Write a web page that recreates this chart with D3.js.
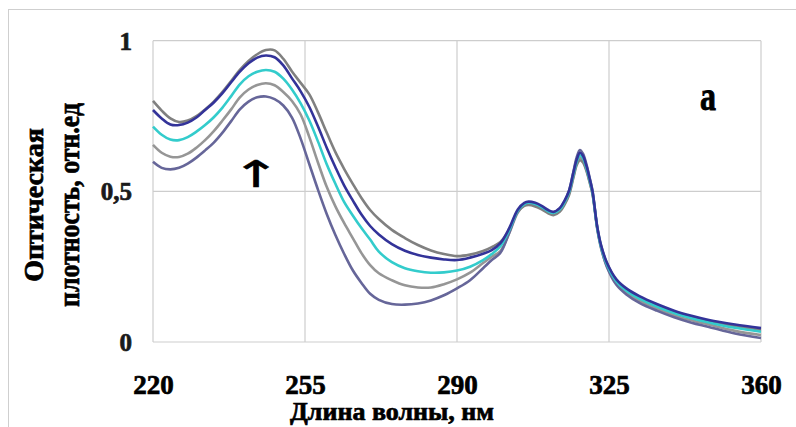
<!DOCTYPE html>
<html>
<head>
<meta charset="utf-8">
<script src="https://cdn.jsdelivr.net/npm/d3@7"></script>
<style>
  html, body { margin: 0; padding: 0; background: #fff; }
  svg { display: block; }
  text { font-family: "Liberation Serif", "Times New Roman", serif; font-weight: bold; }
</style>
</head>
<body>
<svg id="chart" width="796" height="427"></svg>
<script>
// Wavelength grid, nm
const wavelengths = [
  220,222,224,226,228,230,232,234,236,238,240,242,244,246,248,250,252,254,256,258,260,262,264,266,268,270,272,
  275,278,281,284,287,290,293,296,298,300,302,304,
  305.5,306.5,308,309.5,311,
  312.2,313.7,314.8,315.8,316.8,317.6,318.3,319,319.8,320.5,321.2,322.3,323.2,324.5,326.7,
  329,332,336,340,344,348,354,360
];

// Optical density of each spectrum, relative units
const spectrum1 = [
  .800,.768,.742,.730,.735,.750,.772,.798,.830,.866,.903,.933,.955,.969,.968,.940,.898,.860,.822,.762,.695,.630,.575,.525,.478,.438,.408,
  .372,.345,.322,.304,.292,.285,.290,.302,.315,.332,.372,.432,
  .452,.455,.450,.440,.427,
  .421,.433,.457,.488,.545,.588,.603,.596,.568,.532,.492,.380,.318,.262,.205,
  .175,.149,.123,.101,.084,.070,.053,.041
];
const spectrum2 = [
  .770,.742,.722,.720,.728,.745,.770,.795,.826,.862,.897,.925,.944,.951,.945,.918,.875,.832,.780,.715,.645,.580,.520,.470,.423,.385,.357,
  .325,.303,.289,.280,.274,.272,.280,.293,.305,.328,.377,.440,
  .462,.466,.462,.452,.438,
  .432,.445,.470,.502,.562,.607,.628,.618,.585,.545,.500,.382,.320,.264,.208,
  .178,.152,.126,.104,.087,.073,.058,.046
];
const spectrum3 = [
  .715,.688,.672,.670,.680,.698,.720,.746,.778,.816,.855,.882,.897,.903,.897,.874,.838,.792,.735,.665,.590,.525,.465,.420,.378,.340,.300,
  .265,.245,.235,.230,.231,.237,.250,.272,.292,.318,.370,.436,
  .458,.462,.458,.448,.434,
  .428,.440,.465,.497,.555,.600,.620,.611,.578,.540,.496,.378,.315,.258,.201,
  .170,.144,.118,.096,.079,.065,.047,.034
];
const spectrum4 = [
  .654,.628,.615,.614,.625,.645,.670,.700,.735,.772,.812,.838,.853,.859,.852,.830,.800,.755,.680,.595,.515,.450,.395,.345,.295,.255,.228,
  .205,.188,.181,.181,.192,.208,.230,.262,.283,.302,.360,.430,
  .454,.458,.454,.444,.431,
  .425,.437,.461,.493,.550,.595,.612,.604,.572,.535,.492,.374,.310,.252,.195,
  .163,.137,.111,.089,.072,.058,.037,.023
];
const spectrum5 = [
  .598,.578,.573,.578,.592,.612,.636,.662,.695,.733,.772,.798,.812,.815,.806,.785,.745,.675,.590,.505,.425,.355,.293,.238,.196,.160,.140,
  .126,.124,.128,.138,.155,.178,.205,.245,.272,.296,.362,.435,
  .458,.462,.458,.448,.435,
  .430,.443,.468,.502,.565,.615,.637,.625,.590,.548,.502,.378,.312,.250,.190,
  .158,.130,.104,.082,.064,.050,.028,.013
];

const seriesNames = ["1", "2", "3", "4", "5"];
const seriesColors = ["#808080", "#333399", "#33cccc", "#969696", "#666699"];
const seriesValues = [spectrum1, spectrum2, spectrum3, spectrum4, spectrum5];
// drawing order, back to front
const drawOrder = [3, 0, 4, 2, 1];

const xTicks = [220, 255, 290, 325, 360];
const yTicks = [0, 0.5, 1];
const yTickLabels = ["0", "0,5", "1"];

const xTitle = "Длина волны, нм";
const yTitleLines = ["Оптическая", "плотность, отн.ед"];
const panelLabel = "а";
const arrowLabel = "↑";

const svg = d3.select("#chart");
const plot = { left: 153, right: 761, top: 40.7, bottom: 342 };

const x = d3.scaleLinear().domain([220, 360]).range([plot.left, plot.right]);
const y = d3.scaleLinear().domain([0, 1]).range([plot.bottom, plot.top]);

// heavier glyphs for all labels
const ink = sel => sel.attr("fill", "#000").attr("stroke", "#000").attr("stroke-width", 0.7);

// outer chart frame
svg.append("rect")
  .attr("x", 8.5).attr("y", 9.5)
  .attr("width", 800).attr("height", 430)
  .attr("fill", "none").attr("stroke", "#cfcfcf").attr("stroke-width", 1);

// grid
const grid = svg.append("g").attr("stroke", "#cdcdcd").attr("stroke-width", 1.2);
xTicks.forEach(t => {
  grid.append("line")
    .attr("x1", x(t)).attr("x2", x(t))
    .attr("y1", plot.top).attr("y2", plot.bottom);
});
yTicks.forEach(t => {
  grid.append("line")
    .attr("x1", plot.left).attr("x2", plot.right)
    .attr("y1", y(t)).attr("y2", y(t));
});

// axes (tick labels only; lines come from the grid)
const xAxis = d3.axisBottom(x).tickValues(xTicks).tickSize(0).tickPadding(0).tickFormat(d3.format("d"));
svg.append("g")
  .attr("transform", `translate(0,${plot.bottom})`)
  .call(xAxis)
  .call(g => g.select(".domain").remove())
  .selectAll("text")
  .attr("dy", null)
  .attr("y", 52)
  .call(ink)
  .style("font-size", "27px")
  .style("font-family", "'Liberation Serif', serif")
  .style("font-weight", "bold");

const yAxis = d3.axisLeft(y).tickValues(yTicks).tickSize(0).tickPadding(0)
  .tickFormat((d, i) => yTickLabels[i]);
svg.append("g")
  .attr("transform", `translate(132,0)`)
  .call(yAxis)
  .call(g => g.select(".domain").remove())
  .selectAll("text")
  .attr("dy", "0.34em")
  .attr("x", 0)
  .call(ink)
  .attr("fill", "#1a1a1a").attr("stroke", "#1a1a1a")
  .style("font-size", "25px")
  .style("font-family", "'Liberation Serif', serif")
  .style("font-weight", "bold");

// spectra
const line = d3.line()
  .x((d, i) => x(wavelengths[i]))
  .y(d => y(d))
  .curve(d3.curveCatmullRom.alpha(0.5));

svg.append("g")
  .selectAll("path")
  .data(drawOrder)
  .join("path")
  .attr("d", k => line(seriesValues[k]))
  .attr("fill", "none")
  .attr("stroke", k => seriesColors[k])
  .attr("stroke-width", 2.6)
  .attr("stroke-linejoin", "round")
  .attr("data-series", k => seriesNames[k]);

// axis titles
svg.append("text")
  .attr("x", 392).attr("y", 420)
  .attr("text-anchor", "middle")
  .call(ink)
  .style("font-size", "26px")
  .text(xTitle);

const yTitle = svg.append("g").attr("transform", "translate(0,205) rotate(-90)");
yTitle.append("text")
  .attr("x", 0).attr("y", 43)
  .attr("text-anchor", "middle")
  .call(ink)
  .style("font-size", "28px")
  .text(yTitleLines[0]);
yTitle.append("text")
  .attr("x", 0).attr("y", 79)
  .attr("text-anchor", "middle")
  .attr("textLength", 204)
  .attr("lengthAdjust", "spacingAndGlyphs")
  .call(ink)
  .style("font-size", "30px")
  .text(yTitleLines[1]);

// annotations
svg.append("text")
  .attr("transform", "translate(256,187) scale(1.6,1)")
  .attr("text-anchor", "middle")
  .call(ink)
  .attr("stroke-width", 0.5)
  .style("font-size", "37px")
  .style("font-family", "'DejaVu Sans', sans-serif")
  .style("font-weight", "normal")
  .text(arrowLabel);

svg.append("text")
  .attr("transform", "translate(708,110) scale(1,1.3)")
  .attr("text-anchor", "middle")
  .call(ink)
  .style("font-size", "32px")
  .text(panelLabel);
</script>
</body>
</html>
